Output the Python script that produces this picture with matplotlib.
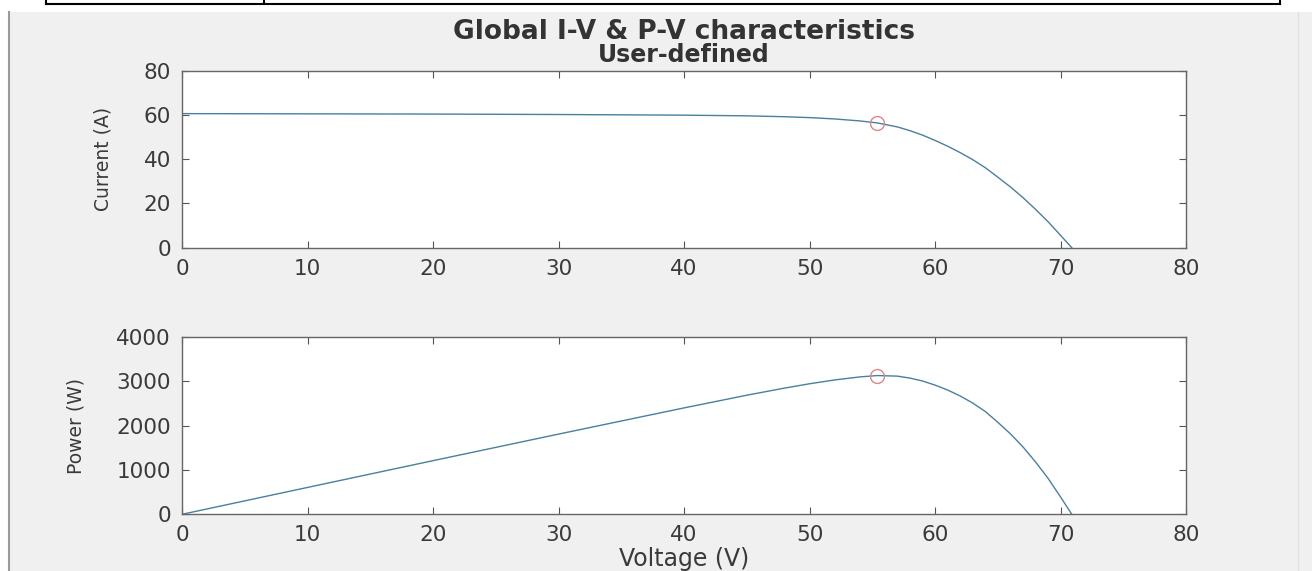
import matplotlib
matplotlib.use("Agg")
import matplotlib.pyplot as plt
from matplotlib.patches import Rectangle
from matplotlib.lines import Line2D

# values
voltage = [0, 10, 20, 30, 40, 45, 48, 50, 52, 54, 55.4, 57, 58, 59, 60,
           61, 62, 63, 64, 65, 66, 67, 68, 69, 70, 70.9]
current = [60.6, 60.5, 60.4, 60.2, 59.9, 59.6, 59.2, 58.8, 58.2, 57.3, 56.4,
           54.6, 52.9, 50.9, 48.5, 45.9, 43.0, 39.8, 36.2, 31.9, 27.5, 22.7,
           17.4, 11.8, 5.6, 0]
power = [0, 605, 1208, 1806, 2396, 2682, 2842, 2940, 3026, 3094, 3125, 3112,
         3068, 3003, 2910, 2800, 2666, 2507, 2317, 2074, 1815, 1521, 1183,
         814, 392, 0]
mpp_v = 55.4
mpp_i = 56.4
mpp_p = 3125

x_ticks = [0, 10, 20, 30, 40, 50, 60, 70, 80]
i_ticks = [0, 20, 40, 60, 80]
p_ticks = [0, 1000, 2000, 3000, 4000]

W, H = 1312, 571
plt.rcParams['font.family'] = ['DejaVu Sans']
fig = plt.figure(figsize=(W / 100, H / 100), dpi=100, facecolor='white')

# gray figure area and the cropped box on top
fig.patches.append(Rectangle((8 / W, 0), 1 - 8 / W, 1 - 12 / H, transform=fig.transFigure,
                             facecolor='#f0f0f0', edgecolor='none', zorder=-10))
fig.lines.append(Line2D([9 / W, 9 / W], [0, 1 - 12 / H], transform=fig.transFigure,
                        color='#9a9a9a', lw=1.5))
fig.lines.append(Line2D([1298 / W, 1298 / W], [0, 1 - 12 / H], transform=fig.transFigure,
                        color='#e2e2e2', lw=1.0))
fig.lines.append(Line2D([46 / W, 1280 / W], [1 - 4 / H, 1 - 4 / H], transform=fig.transFigure,
                        color='black', lw=1.5))
for xb in (46, 264, 1280):
    fig.lines.append(Line2D([xb / W, xb / W], [1, 1 - 4 / H], transform=fig.transFigure,
                            color='black', lw=1.5))

left, width = 182 / W, (1186 - 182) / W
ax1 = fig.add_axes([left, 1 - 247.7 / H, width, (247.7 - 70.7) / H])
ax2 = fig.add_axes([left, 1 - 514.3 / H, width, (514.3 - 336.7) / H])

line_color = '#4a7f9f'
mark_color = '#d9888a'

ax1.plot(voltage, current, color=line_color, lw=1.0)
ax1.plot(mpp_v, mpp_i, 'o', mfc='none', mec=mark_color, ms=10, mew=1.0)
ax2.plot(voltage, power, color=line_color, lw=1.0)
ax2.plot(mpp_v, mpp_p, 'o', mfc='none', mec=mark_color, ms=10, mew=1.0)

for ax, yt in ((ax1, i_ticks), (ax2, p_ticks)):
    ax.set_xlim(0, 80)
    ax.set_ylim(yt[0], yt[-1])
    ax.set_xticks(x_ticks)
    ax.set_yticks(yt)
    ax.set_facecolor('white')
    ax.tick_params(direction='in', length=5, width=0.8, color='#555555',
                   labelcolor='#3a3a3a', labelsize=15.5, top=True, right=True, pad=8)
    for s in ax.spines.values():
        s.set_color('#666666')
        s.set_linewidth(1.0)

ax1.set_ylabel('Current (A)', fontsize=13.5, color='#3a3a3a', labelpad=22)
ax2.set_ylabel('Power (W)', fontsize=13.5, color='#3a3a3a', labelpad=22)
fig.text(684 / W, 1 - 559 / H, 'Voltage (V)', ha='center', va='center',
         fontsize=17, color='#3a3a3a')

fig.text(684 / W, 1 - 32 / H, 'Global I-V & P-V characteristics', ha='center', va='center',
         fontsize=19, fontweight='bold', color='#333333')
fig.text(684 / W, 1 - 55 / H, 'User-defined', ha='center', va='center',
         fontsize=17, fontweight='bold', color='#333333')

fig.savefig('out.png', dpi=100, facecolor=fig.get_facecolor())
